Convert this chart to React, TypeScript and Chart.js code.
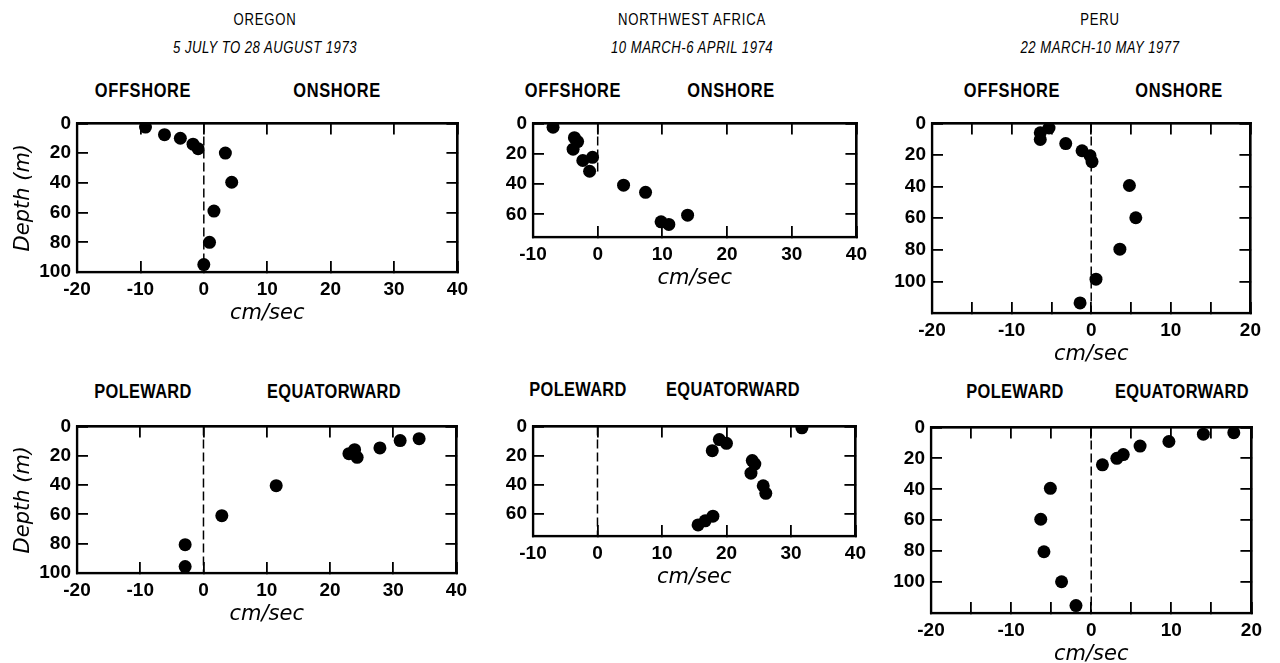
import React, { useEffect, useRef } from "react";
import { Chart, registerables } from "chart.js";

Chart.register(...registerables);

// ---------------- DATA ----------------
const siteNames = ["OREGON", "NORTHWEST AFRICA", "PERU"];
const dateRanges = ["5 JULY TO 28 AUGUST 1973", "10 MARCH-6 APRIL 1974", "22 MARCH-10 MAY 1977"];
const crossLabels = ["OFFSHORE", "ONSHORE"];
const alongLabels = ["POLEWARD", "EQUATORWARD"];
const xAxisTitle = "cm/sec";
const yAxisTitle = "Depth (m)";

// Cross-shelf (offshore / onshore) velocity, cm/sec, and depth, m
const oregonCrossSpeed = [-9.2, -6.2, -3.7, -1.7, -0.9, 3.4, 4.4, 1.6, 0.9, 0];
const oregonCrossDepth = [2.5, 7.6, 10, 14, 17, 20, 39.6, 59, 80, 95];
const africaCrossSpeed = [-6.9, -3.6, -3.1, -3.8, -2.3, -0.8, -1.25, 4.0, 7.4, 9.8, 11.0, 13.9];
const africaCrossDepth = [2.5, 9.4, 12, 17, 24.5, 22.4, 31.6, 40.8, 45.5, 65, 66.7, 60.6];
const peruCrossSpeed = [-5.3, -6.4, -6.4, -3.2, -1.15, -0.15, 0.1, 4.8, 5.6, 3.6, 0.6, -1.4];
const peruCrossDepth = [2.9, 5.9, 10.2, 12.8, 17.3, 20.4, 24.2, 39.3, 59.7, 79.6, 98.6, 113.6];

// Alongshore (poleward / equatorward) velocity, cm/sec, and depth, m
const oregonAlongSpeed = [-2.9, -2.9, 2.9, 11.5, 23.0, 23.9, 24.3, 27.9, 31.1, 34.1];
const oregonAlongDepth = [80.7, 95.6, 60.9, 40.4, 18.6, 15.9, 21.1, 14.7, 9.7, 8.4];
const africaAlongSpeed = [31.7, 18.9, 20.0, 17.8, 24.0, 24.4, 23.8, 25.7, 26.1, 15.6, 16.7, 17.9];
const africaAlongDepth = [1, 9, 11.6, 16.6, 23.4, 25.8, 32, 40.6, 45.8, 67.4, 64.6, 61.4];
const peruAlongSpeed = [17.8, 14.0, 9.7, 6.1, 4.0, 3.2, 1.4, -5.1, -6.3, -5.9, -3.7, -1.9];
const peruAlongDepth = [3.4, 4.4, 9.1, 12.1, 17.6, 20, 24.2, 39.4, 59.4, 80.4, 99.8, 115.2];

// Axes
const oregonXTicks = [-20, -10, 0, 10, 20, 30, 40];
const oregonXLabels = [-20, -10, 0, 10, 20, 30, 40];
const oregonYTicks = [0, 20, 40, 60, 80, 100];
const oregonYLabels = [0, 20, 40, 60, 80, 100];
const africaXTicks = [-10, 0, 10, 20, 30, 40];
const africaXLabels = [-10, 0, 10, 20, 30, 40];
const africaYTicks = [0, 20, 40, 60, 75];
const africaYLabels = [0, 20, 40, 60];
const peruXTicks = [-20, -15, -10, -5, 0, 5, 10, 15, 20];
const peruXLabels = [-20, -10, 0, 10, 20];
const peruYTicks = [0, 20, 40, 60, 80, 100, 120];
const peruYLabels = [0, 20, 40, 60, 80, 100];

// ---------------- STYLE ----------------
const TICK_FONT = '"Liberation Sans", Arial, sans-serif';
const LABEL_FONT = '"Liberation Sans", Arial, sans-serif';
const OBLIQUE = '"DejaVu Sans", sans-serif';
const X_AXIS_H = 55;
const PAD_TOP = 14;
const PAD_RIGHT = 18;
const MARK_LEN = 11;

// inward tick marks + frame edge, drawn by Chart.js itself
const inwardGrid = {
  display: true,
  drawOnChartArea: false,
  drawTicks: true,
  tickLength: -MARK_LEN,
  tickWidth: 1.8,
  tickColor: "#000",
  color: "#000",
  lineWidth: 1.8,
};
const frameBorder = { display: true, color: "#000", width: 2.2 };

type PanelProps = {
  speed: number[];
  depth: number[];
  xTicks: number[];
  xLabels: number[];
  yTicks: number[];
  yLabels: number[];
  zeroEnd: number;
  showYTitle: boolean;
  rect: { L: number; T: number; R: number; B: number };
  yw: number;
};

function Panel(p: PanelProps) {
  const ref = useRef<HTMLCanvasElement | null>(null);
  const { L, T, R, B } = p.rect;
  const width = R - L + p.yw + PAD_RIGHT;
  const height = B - T + PAD_TOP + X_AXIS_H;

  useEffect(() => {
    const xMin = p.xTicks[0];
    const xMax = p.xTicks[p.xTicks.length - 1];
    const yMax = p.yTicks[p.yTicks.length - 1];

    const framePlugin = {
      id: "panelFrame",
      afterDraw(chart: any) {
        const ctx: CanvasRenderingContext2D = chart.ctx;
        const a = chart.chartArea;
        ctx.save();
        ctx.setLineDash([]);
        ctx.strokeStyle = "#000000";
        ctx.lineWidth = 2.2;
        ctx.strokeRect(a.left, a.top, a.right - a.left, a.bottom - a.top);
        ctx.restore();
      },
    };

    const setX = (s: any) => {
      s.ticks = p.xTicks.map((v) => ({ value: v }));
    };
    const setY = (s: any) => {
      s.ticks = p.yTicks.map((v) => ({ value: v }));
    };

    const pts = p.speed.map((s, i) => ({ x: s, y: p.depth[i] }));
    const chart = new Chart(ref.current!, {
      type: "scatter",
      data: {
        datasets: [
          {
            data: [
              { x: 0, y: 0 },
              { x: 0, y: p.zeroEnd },
            ],
            xAxisID: "x",
            yAxisID: "y",
            showLine: true,
            borderColor: "#000",
            borderWidth: 1.5,
            borderDash: [9, 4],
            pointRadius: 0,
            pointHoverRadius: 0,
            fill: false,
          } as any,
          {
            data: pts,
            xAxisID: "x",
            yAxisID: "y",
            pointRadius: 6.5,
            pointHoverRadius: 6.5,
            backgroundColor: "#000",
            borderColor: "#000",
            borderWidth: 0,
          } as any,
        ],
      },
      options: {
        animation: false,
        responsive: false,
        maintainAspectRatio: false,
        devicePixelRatio: 1,
        events: [],
        layout: { padding: { top: PAD_TOP, right: PAD_RIGHT, left: 0, bottom: 0 } },
        plugins: { legend: { display: false }, tooltip: { enabled: false } },
        scales: {
          x: {
            type: "linear",
            axis: "x",
            position: "bottom",
            min: xMin,
            max: xMax,
            afterBuildTicks: setX,
            afterFit: (s: any) => {
              s.height = X_AXIS_H;
            },
            grid: inwardGrid,
            border: frameBorder,
            ticks: {
              autoSkip: false,
              maxRotation: 0,
              padding: 6 + MARK_LEN,
              color: "#000",
              font: { family: TICK_FONT, size: 19, weight: "bold" },
              callback: (v: any) => (p.xLabels.includes(Number(v)) ? String(v) : ""),
            },
            title: {
              display: true,
              text: xAxisTitle,
              color: "#000",
              font: { family: OBLIQUE, size: 21, style: "italic" },
              padding: { top: 0, bottom: 1 },
            },
          },
          x2: {
            type: "linear",
            axis: "x",
            position: "top",
            min: xMin,
            max: xMax,
            afterBuildTicks: setX,
            afterFit: (s: any) => {
              s.height = 0;
            },
            grid: inwardGrid,
            border: frameBorder,
            ticks: { display: false, autoSkip: false },
          },
          y: {
            type: "linear",
            axis: "y",
            position: "left",
            reverse: true,
            min: 0,
            max: yMax,
            afterBuildTicks: setY,
            afterFit: (s: any) => {
              s.width = p.yw;
            },
            grid: inwardGrid,
            border: frameBorder,
            ticks: {
              autoSkip: false,
              padding: 6 + MARK_LEN,
              color: "#000",
              font: { family: TICK_FONT, size: 19, weight: "bold" },
              callback: (v: any) => (p.yLabels.includes(Number(v)) ? String(v) : ""),
            },
            title: {
              display: p.showYTitle,
              text: yAxisTitle,
              color: "#000",
              font: { family: OBLIQUE, size: 21, style: "italic" },
              padding: { top: 6, bottom: 0 },
            },
          },
          y2: {
            type: "linear",
            axis: "y",
            position: "right",
            reverse: true,
            min: 0,
            max: yMax,
            afterBuildTicks: setY,
            afterFit: (s: any) => {
              s.width = 0;
            },
            grid: inwardGrid,
            border: frameBorder,
            ticks: { display: false, autoSkip: false },
          },
        },
      } as any,
      plugins: [framePlugin],
    });
    return () => chart.destroy();
  }, []);

  return (
    <canvas
      ref={ref}
      width={width}
      height={height}
      style={{
        position: "absolute",
        left: L - p.yw,
        top: T - PAD_TOP,
        width,
        height,
      }}
    />
  );
}

function Label(props: {
  text: string;
  x: number;
  y: number;
  size: number;
  bold?: boolean;
  italic?: boolean;
  spacing?: number;
}) {
  return (
    <div
      style={{
        position: "absolute",
        left: props.x,
        top: props.y,
        transform: "translate(-50%, -50%) scaleX(0.82)",
        whiteSpace: "nowrap",
        fontFamily: LABEL_FONT,
        fontSize: props.size,
        lineHeight: `${props.size}px`,
        fontWeight: props.bold ? "bold" : "normal",
        fontStyle: props.italic ? "italic" : "normal",
        letterSpacing: props.spacing ?? 0,
        color: "#000",
      }}
    >
      {props.text}
    </div>
  );
}

export default function App() {
  const titleX = [265, 692, 1100];
  return (
    <div
      style={{
        position: "absolute",
        left: 0,
        top: 0,
        width: 1280,
        height: 663,
        background: "#fff",
        overflow: "hidden",
      }}
    >
      {siteNames.map((s, i) => (
        <Label key={"s" + i} text={s} x={titleX[i]} y={20} size={16} spacing={1} />
      ))}
      {dateRanges.map((s, i) => (
        <Label key={"d" + i} text={s} x={titleX[i]} y={48} size={16} italic spacing={0.6} />
      ))}

      <Label text={crossLabels[0]} x={143} y={90} size={20} bold spacing={0.8} />
      <Label text={crossLabels[1]} x={337} y={90} size={20} bold spacing={0.8} />
      <Label text={crossLabels[0]} x={573} y={90} size={20} bold spacing={0.8} />
      <Label text={crossLabels[1]} x={731} y={90} size={20} bold spacing={0.8} />
      <Label text={crossLabels[0]} x={1012} y={90} size={20} bold spacing={0.8} />
      <Label text={crossLabels[1]} x={1179} y={90} size={20} bold spacing={0.8} />

      <Label text={alongLabels[0]} x={143} y={391} size={20} bold spacing={0.4} />
      <Label text={alongLabels[1]} x={334} y={391} size={20} bold spacing={0.4} />
      <Label text={alongLabels[0]} x={578} y={389} size={20} bold spacing={0.4} />
      <Label text={alongLabels[1]} x={733} y={389} size={20} bold spacing={0.4} />
      <Label text={alongLabels[0]} x={1015} y={391} size={20} bold spacing={0.4} />
      <Label text={alongLabels[1]} x={1182} y={391} size={20} bold spacing={0.4} />

      <Panel
        speed={oregonCrossSpeed}
        depth={oregonCrossDepth}
        xTicks={oregonXTicks}
        xLabels={oregonXLabels}
        yTicks={oregonYTicks}
        yLabels={oregonYLabels}
        zeroEnd={100}
        showYTitle={true}
        rect={{ L: 77, T: 109, R: 467, B: 272 }}
        yw={72}
      />
      <Panel
        speed={africaCrossSpeed}
        depth={africaCrossDepth}
        xTicks={africaXTicks}
        xLabels={africaXLabels}
        yTicks={africaYTicks}
        yLabels={africaYLabels}
        zeroEnd={33}
        showYTitle={false}
        rect={{ L: 533, T: 109, R: 866, B: 237 }}
        yw={44}
      />
      <Panel
        speed={peruCrossSpeed}
        depth={peruCrossDepth}
        xTicks={peruXTicks}
        xLabels={peruXLabels}
        yTicks={peruYTicks}
        yLabels={peruYLabels}
        zeroEnd={120}
        showYTitle={false}
        rect={{ L: 932, T: 109, R: 1260, B: 313 }}
        yw={44}
      />
      <Panel
        speed={oregonAlongSpeed}
        depth={oregonAlongDepth}
        xTicks={oregonXTicks}
        xLabels={oregonXLabels}
        yTicks={oregonYTicks}
        yLabels={oregonYLabels}
        zeroEnd={100}
        showYTitle={true}
        rect={{ L: 77, T: 412, R: 466, B: 573 }}
        yw={72}
      />
      <Panel
        speed={africaAlongSpeed}
        depth={africaAlongDepth}
        xTicks={africaXTicks}
        xLabels={africaXLabels}
        yTicks={africaYTicks}
        yLabels={africaYLabels}
        zeroEnd={75}
        showYTitle={false}
        rect={{ L: 533, T: 412, R: 865, B: 536 }}
        yw={44}
      />
      <Panel
        speed={peruAlongSpeed}
        depth={peruAlongDepth}
        xTicks={peruXTicks}
        xLabels={peruXLabels}
        yTicks={peruYTicks}
        yLabels={peruYLabels}
        zeroEnd={120}
        showYTitle={false}
        rect={{ L: 931, T: 413, R: 1261, B: 613 }}
        yw={44}
      />
    </div>
  );
}
